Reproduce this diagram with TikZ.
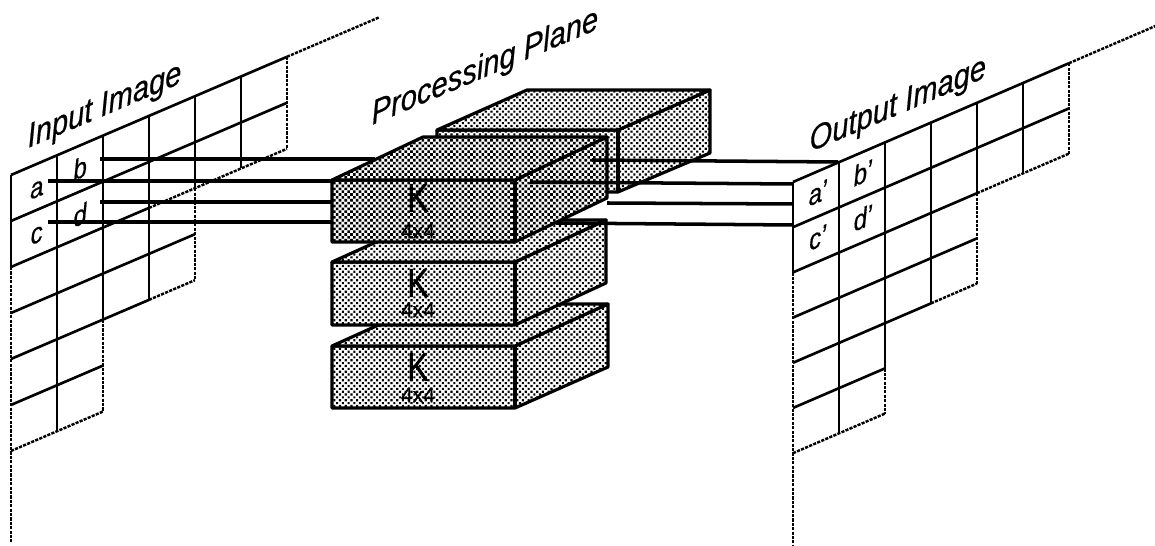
\documentclass[tikz,border=0pt]{standalone}
\usepackage{fontspec}
\setmainfont{Liberation Sans}[FakeBold=0.6]
\usetikzlibrary{patterns.meta}

\tikzset{
    gridline/.style={line width=1.5pt, black},
    gridfade/.style={line width=1.4pt, black, dash pattern=on 1.8pt off 0.7pt},
    wire/.style={line width=2pt, black},
    blockline/.style={line width=1.8pt, black, line join=round},
    blockdark/.style={blockline, preaction={fill=white}, pattern={Dots[radius=1.04pt, distance=2.3pt, angle=45]}},
    blockmid/.style={blockline, preaction={fill=white}, pattern={Dots[radius=0.86pt, distance=2.3pt, angle=45]}},
    cell/.style={font=\fontsize{15}{15}\selectfont\itshape, rotate=23, xslant=0.35},
    title/.style={font=\fontsize{18}{18}\selectfont\itshape, anchor=base west, inner sep=0pt, rotate=23, xslant=0.35},
    kernel/.style={font=\fontsize{23}{23}\selectfont, xscale=0.8, inner sep=0pt},
    size/.style={font=\fontsize{12}{12}\selectfont, inner sep=0pt},
}

\begin{document}
\begin{tikzpicture}[x=0.02cm, y=-0.02cm]
    \useasboundingbox (0,0) rectangle (1155,546);

    % Input image grid
    \begin{scope}[shift={(11,175)}, x={(0.92cm,0.394cm)}, y={(0cm,-0.92cm)}]
        \draw[gridline] (0,0) -- (6,0);
        \draw[gridfade] (6,0) -- (8,0);
        \draw[gridline] (0,1) -- (6,1);
        \draw[gridline] (0,2) -- (3,2);
        \draw[gridfade] (3,2) -- (6,2);
        \draw[gridline] (0,3) -- (4,3);
        \draw[gridline] (0,4) -- (3,4);
        \draw[gridfade] (3,4) -- (4,4);
        \draw[gridline] (0,5) -- (2,5);
        \draw[gridfade] (0,6) -- (2,6);
        \draw[gridline] (0,0) -- (0,2);
        \draw[gridfade] (0,2) -- (0,8);
        \draw[gridline] (1,0) -- (1,6);
        \draw[gridline] (2,0) -- (2,4);
        \draw[gridfade] (2,4) -- (2,6);
        \draw[gridline] (3,0) -- (3,4);
        \draw[gridline] (4,0) -- (4,2);
        \draw[gridfade] (4,2) -- (4,4);
        \draw[gridline] (5,0) -- (5,2);
        \draw[gridfade] (6,0) -- (6,2);
        \node[cell] (a) at (0.56,0.56) {a};
        \node[cell] (b) at (1.5,0.49) {b};
        \node[cell] (c) at (0.56,1.55) {c};
        \node[cell] (d) at (1.5,1.51) {d};
    \end{scope}

    % Output image grid
    \begin{scope}[shift={(793,182)}, x={(0.92cm,0.396cm)}, y={(0cm,-0.904cm)}]
        \draw[gridline] (0,0) -- (6,0);
        \draw[gridfade] (6,0) -- (7.9,0);
        \draw[gridline] (0,1) -- (6,1);
        \draw[gridline] (0,2) -- (4,2);
        \draw[gridfade] (4,2) -- (6,2);
        \draw[gridline] (0,3) -- (4,3);
        \draw[gridline] (0,4) -- (3,4);
        \draw[gridfade] (3,4) -- (4,4);
        \draw[gridline] (0,5) -- (2,5);
        \draw[gridfade] (0,6) -- (2,6);
        \draw[gridline] (0,0) -- (0,2);
        \draw[gridfade] (0,2) -- (0,8.05);
        \draw[gridline] (1,0) -- (1,6);
        \draw[gridline] (2,0) -- (2,5);
        \draw[gridfade] (2,5) -- (2,6);
        \draw[gridline] (3,0) -- (3,4);
        \draw[gridline] (4,0) -- (4,2);
        \draw[gridfade] (4,2) -- (4,4);
        \draw[gridline] (5,0) -- (5,2);
        \draw[gridfade] (6,0) -- (6,2);
        \node[cell] (aout) at (0.54,0.48) {a'};
        \node[cell] (bout) at (1.52,0.46) {b'};
        \node[cell] (cout) at (0.54,1.47) {c'};
        \node[cell] (dout) at (1.52,1.46) {d'};
    \end{scope}

    % Lower blocks
    \begin{scope}[shift={(332,346)}]
        \draw[blockmid] (0,0) -- (183,0) -- (276,-42) -- (276,21) -- (183,62) -- (0,62) -- cycle;
        \draw[blockmid] (0,0) -- (93,-42) -- (276,-42) -- (183,0) -- cycle;
        \draw[blockline] (183,0) -- (183,62);
        \node[kernel] (k3) at (86,21) {K};
        \node[size] (s3) at (86,49) {4x4};
    \end{scope}
    \begin{scope}[shift={(332,262)}]
        \draw[blockmid] (0,0) -- (183,0) -- (274,-42) -- (274,21) -- (183,63) -- (0,63) -- cycle;
        \draw[blockmid] (0,0) -- (93,-42) -- (274,-42) -- (183,0) -- cycle;
        \draw[blockline] (183,0) -- (183,63);
        \node[kernel] (k2) at (86,21) {K};
        \node[size] (s2) at (86,48) {4x4};
    \end{scope}

    % Back block
    \begin{scope}[shift={(437,130)}]
        \draw[blockmid] (0,0) -- (181,0) -- (273,-40) -- (273,23) -- (181,62) -- (0,62) -- cycle;
        \draw[blockmid] (0,0) -- (90,-40) -- (273,-40) -- (181,0) -- cycle;
        \draw[blockline] (181,0) -- (181,62);
    \end{scope}

    % Wires into the plane
    \coordinate (bin) at (100,159);
    \coordinate (ain) at (48,181);
    \coordinate (din) at (100,202);
    \coordinate (cin) at (48,222);
    \coordinate (bend) at (375,159);
    \coordinate (aend) at (332,181);
    \coordinate (dend) at (332,202);
    \coordinate (cend) at (332,222);
    \draw[wire] (bin) -- (bend);
    \draw[wire] (ain) -- (aend);
    \draw[wire] (din) -- (dend);
    \draw[wire] (cin) -- (cend);

    % Front block
    \begin{scope}[shift={(332,180)}]
        \draw[blockdark] (0,0) -- (183,0) -- (275,-43) -- (275,18) -- (183,62) -- (0,62) -- cycle;
        \draw[blockdark] (0,0) -- (91,-43) -- (275,-43) -- (183,0) -- cycle;
        \draw[blockline] (183,0) -- (183,62);
        \node[kernel] (k1) at (86,18) {K};
        \node[size] (s1) at (86,51) {4x4};
    \end{scope}

    % Wires out of the plane
    \coordinate (bstart) at (592,160);
    \coordinate (astart) at (530,182);
    \coordinate (dstart) at (607,203);
    \coordinate (cstart) at (556,223);
    \coordinate (bstop) at (838,162);
    \coordinate (astop) at (793,184);
    \coordinate (dstop) at (793,204);
    \coordinate (cstop) at (793,225);
    \draw[wire] (bstart) -- (bstop);
    \draw[wire] (astart) -- (astop);
    \draw[wire] (dstart) -- (dstop);
    \draw[wire] (cstart) -- (cstop);

    % Titles
    \node[title] (inputtitle) at (28,148) {Input Image};
    \node[title] (planetitle) at (372,125) {Processing Plane};
    \node[title] (outputtitle) at (810,152) {Output Image};
\end{tikzpicture}
\end{document}
